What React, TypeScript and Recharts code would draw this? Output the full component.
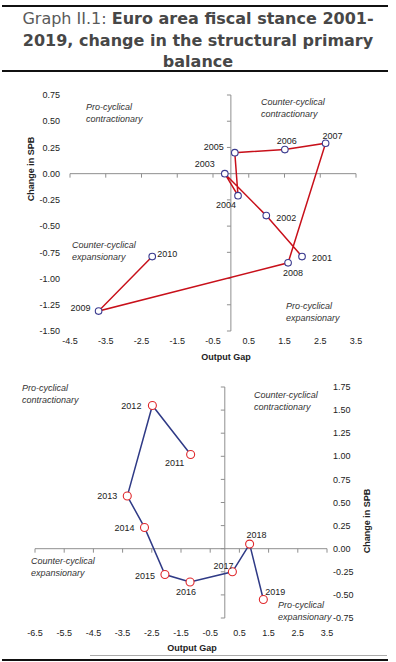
import React from 'react';
import { ScatterChart, Scatter, XAxis, YAxis, ReferenceLine } from 'recharts';

// 2001-2010 panel
const YEARS_A = ['2001', '2002', '2003', '2004', '2005', '2006', '2007', '2008', '2009', '2010'];
const GAP_A = [1.99, 0.99, -0.17, 0.2, 0.11, 1.51, 2.65, 1.6, -3.7, -2.2];
const SPB_A = [-0.79, -0.4, 0.0, -0.21, 0.2, 0.23, 0.29, -0.85, -1.31, -0.79];
const X_TICKS_A = [-4.5, -3.5, -2.5, -1.5, -0.5, 0.5, 1.5, 2.5, 3.5];
const Y_TICKS_A = [0.75, 0.5, 0.25, 0, -0.25, -0.5, -0.75, -1, -1.25, -1.5];

// 2011-2019 panel
const YEARS_B = ['2011', '2012', '2013', '2014', '2015', '2016', '2017', '2018', '2019'];
const GAP_B = [-1.17, -2.48, -3.34, -2.75, -2.05, -1.19, 0.26, 0.85, 1.32];
const SPB_B = [1.02, 1.55, 0.57, 0.23, -0.28, -0.36, -0.25, 0.05, -0.55];
const X_TICKS_B = [-6.5, -5.5, -4.5, -3.5, -2.5, -1.5, -0.5, 0.5, 1.5, 2.5, 3.5];
const Y_TICKS_B = [1.75, 1.5, 1.25, 1, 0.75, 0.5, 0.25, 0, -0.25, -0.5, -0.75];

// where each year label sits relative to its marker (px)
const LABEL_OFFSET: Record<string, [number, number]> = {
  '2001': [20, 1], '2002': [20, 2], '2003': [-20, -10], '2004': [-12, 9],
  '2005': [-21, -6], '2006': [2, -9], '2007': [7, -7], '2008': [5, 10],
  '2009': [-18, -3], '2010': [15, -3],
  '2011': [-16, 9], '2012': [-21, 1], '2013': [-20, 0], '2014': [-20, 1],
  '2015': [-20, 1], '2016': [-4, 10], '2017': [-9, -6], '2018': [7, -9],
  '2019': [12, -8],
};

const dataA = YEARS_A.map((year, i) => ({ year, gap: GAP_A[i], spb: SPB_A[i] }));
const dataB = YEARS_B.map((year, i) => ({ year, gap: GAP_B[i], spb: SPB_B[i] }));

const AXIS_GREY = '#8f8f8f';
const FONT = '"Liberation Sans", Arial, sans-serif';
const tickStyle = { fontSize: 9, fill: '#222', fontFamily: FONT };

const makeMarker = (stroke: string, r: number) => (props: any) => {
  const { cx, cy, payload } = props;
  const [dx, dy] = LABEL_OFFSET[payload.year] || [0, 0];
  return (
    <g>
      <circle cx={cx} cy={cy} r={r} fill="#fff" stroke={stroke} strokeWidth={1.1} />
      <text
        x={cx + dx}
        y={cy + dy}
        textAnchor="middle"
        dominantBaseline="central"
        fontSize={9}
        fontFamily={FONT}
        fill="#222"
      >
        {payload.year}
      </text>
    </g>
  );
};

const Note = ({ left, top, lines }: { left: number; top: number; lines: string[] }) => (
  <div
    style={{
      position: 'absolute', left, top, fontFamily: FONT, fontStyle: 'italic',
      fontSize: 9, lineHeight: '12px', color: '#333', whiteSpace: 'nowrap',
    }}
  >
    {lines.map((l) => <div key={l}>{l}</div>)}
  </div>
);

const AxisTitle = ({ left, top, text, rotate }: { left: number; top: number; text: string; rotate?: boolean }) => (
  <div
    style={{
      position: 'absolute', left, top, fontFamily: FONT, fontWeight: 700, fontSize: 9,
      color: '#222', whiteSpace: 'nowrap',
      transform: rotate ? 'translate(-50%, -50%) rotate(-90deg)' : 'translate(-50%, -50%)',
    }}
  >
    {text}
  </div>
);

export default function App() {
  return (
    <div style={{ position: 'absolute', left: 0, top: 0, width: 396, height: 662, background: '#fff', overflow: 'hidden' }}>
      {/* title block */}
      <div style={{ position: 'absolute', left: 2, top: 5, width: 386, height: 2, background: '#111' }} />
      <div
        style={{
          position: 'absolute', left: 0, top: 8, width: 396, textAlign: 'center',
          fontFamily: '"DejaVu Sans", Verdana, sans-serif', fontSize: 16, lineHeight: '21.5px', color: '#474747',
        }}
      >
        <span style={{ color: '#5a5a5a' }}>Graph II.1: </span>
        <b>Euro area fiscal stance 2001-<br />2019, change in the structural primary<br />balance</b>
      </div>
      <div style={{ position: 'absolute', left: 2, top: 70, width: 386, height: 2, background: '#111' }} />

      {/* upper panel */}
      <div style={{ position: 'absolute', left: 0, top: 0 }}>
        <ScatterChart width={396} height={370} margin={{ top: 95, right: 40, bottom: 9, left: 10 }}>
          <XAxis
            type="number" dataKey="gap" domain={[-4.5, 3.5]} ticks={X_TICKS_A} allowDataOverflow
            axisLine={false} tickLine={false} tickSize={4} tickMargin={3} height={30}
            tick={tickStyle} tickFormatter={(v: number) => v.toFixed(1)} interval={0}
          />
          <YAxis
            type="number" dataKey="spb" domain={[-1.5, 0.75]} ticks={Y_TICKS_A} allowDataOverflow
            axisLine={false} tickLine={false} tickSize={4} tickMargin={6} width={60}
            tick={tickStyle} tickFormatter={(v: number) => v.toFixed(2)} interval={0}
          />
          <ReferenceLine y={0} stroke={AXIS_GREY} />
          <ReferenceLine x={0} stroke={AXIS_GREY} />
          {X_TICKS_A.map((t) => (
            <ReferenceLine key={'xa' + t} segment={[{ x: t, y: 0 }, { x: t, y: -0.038 }]} stroke={AXIS_GREY} />
          ))}
          {Y_TICKS_A.map((t) => (
            <ReferenceLine key={'ya' + t} segment={[{ x: 0, y: t }, { x: -0.11, y: t }]} stroke={AXIS_GREY} />
          ))}
          <Scatter
            data={dataA} isAnimationActive={false} legendType="none"
            line={{ stroke: '#c8101a', strokeWidth: 1.5 }} lineType="joint"
            shape={makeMarker('#3b3b8f', 3.3)}
          />
        </ScatterChart>
      </div>
      <AxisTitle left={31} top={169} text="Change in SPB" rotate />
      <AxisTitle left={226} top={357} text="Output Gap" />
      <Note left={86} top={101} lines={['Pro-cyclical', 'contractionary']} />
      <Note left={261} top={96} lines={['Counter-cyclical', 'contractionary']} />
      <Note left={72} top={239} lines={['Counter-cyclical', 'expansionary']} />
      <Note left={286} top={300} lines={['Pro-cyclical', 'expansionary']} />

      {/* lower panel */}
      <div style={{ position: 'absolute', left: 0, top: 370 }}>
        <ScatterChart width={396} height={292} margin={{ top: 17, right: 19, bottom: 14, left: 35 }}>
          <XAxis
            type="number" dataKey="gap" domain={[-6.5, 3.5]} ticks={X_TICKS_B} allowDataOverflow
            axisLine={false} tickLine={false} tickSize={4} tickMargin={8} height={30}
            tick={tickStyle} tickFormatter={(v: number) => v.toFixed(1)} interval={0}
          />
          <YAxis
            type="number" dataKey="spb" orientation="right" domain={[-0.75, 1.75]} ticks={Y_TICKS_B} allowDataOverflow
            axisLine={false} tickLine={false} tickSize={2} tickMargin={4} width={50}
            tick={tickStyle} tickFormatter={(v: number) => v.toFixed(2)} interval={0}
          />
          <ReferenceLine y={0} stroke={AXIS_GREY} />
          <ReferenceLine x={0} stroke={AXIS_GREY} />
          {X_TICKS_B.map((t) => (
            <ReferenceLine key={'xb' + t} segment={[{ x: t, y: 0 }, { x: t, y: -0.043 }]} stroke={AXIS_GREY} />
          ))}
          {Y_TICKS_B.map((t) => (
            <ReferenceLine key={'yb' + t} segment={[{ x: 0, y: t }, { x: -0.137, y: t }]} stroke={AXIS_GREY} />
          ))}
          <Scatter
            data={dataB} isAnimationActive={false} legendType="none"
            line={{ stroke: '#2f3a86', strokeWidth: 1.5 }} lineType="joint"
            shape={makeMarker('#e0282c', 4)}
          />
        </ScatterChart>
      </div>
      <AxisTitle left={367} top={521} text="Change in SPB" rotate />
      <AxisTitle left={192} top={648} text="Output Gap" />
      <Note left={22} top={382} lines={['Pro-cyclical', 'contractionary']} />
      <Note left={254} top={389} lines={['Counter-cyclical', 'contractionary']} />
      <Note left={31} top={555} lines={['Counter-cyclical', 'expansionary']} />
      <Note left={278} top={599} lines={['Pro-cyclical', 'expansionary']} />

      <div style={{ position: 'absolute', left: 90, top: 655, width: 297, height: 1, background: '#aaa' }} />
      <div style={{ position: 'absolute', left: 2, top: 659, width: 386, height: 2, background: '#111' }} />
    </div>
  );
}
